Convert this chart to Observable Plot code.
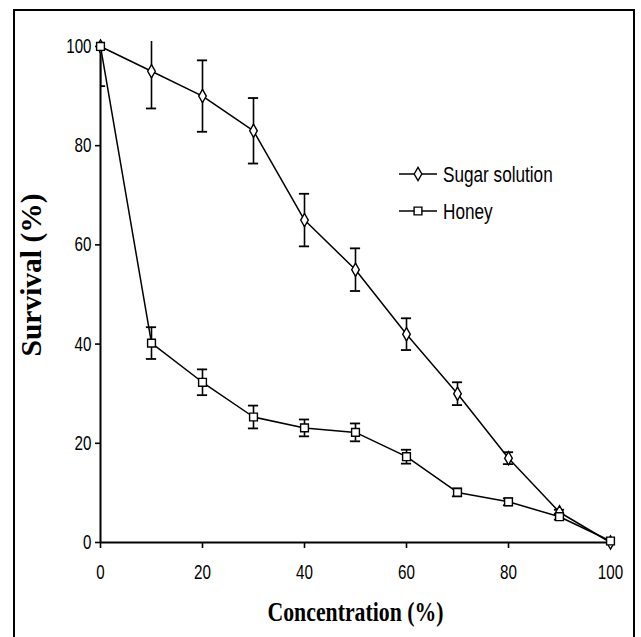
<!DOCTYPE html>
<html>
<head>
<meta charset="utf-8">
<script src="https://cdn.jsdelivr.net/npm/d3@7"></script>
<script src="https://cdn.jsdelivr.net/npm/@observablehq/plot@0.6"></script>
<style>
  html, body { margin: 0; padding: 0; background: #fff; }
  #wrap { position: relative; width: 641px; height: 637px; overflow: hidden; background: #fff; }
  #wrap svg { position: absolute; left: 0; top: 0; }
  #border { position: absolute; left: 13px; top: 9px; width: 622px; height: 640px; border: 2px solid #000; box-sizing: border-box; }
</style>
</head>
<body>
<div id="wrap"><div id="border"></div></div>
<script>
// ---- data ----
const concentration = [0, 10, 20, 30, 40, 50, 60, 70, 80, 90, 100];
const sugarSurvival = [100, 95, 90, 83, 65, 55, 42, 30, 17, 6.1, 0];
const sugarError    = [0, 7.5, 7.2, 6.6, 5.3, 4.3, 3.2, 2.3, 1.2, 0.5, 0];
const honeySurvival = [100, 40.2, 32.3, 25.3, 23.1, 22.2, 17.3, 10.1, 8.2, 5.2, 0.3];
const honeyError    = [8, 3.2, 2.6, 2.3, 1.7, 1.8, 1.4, 0.8, 0.7, 0.6, 0];
const seriesNames = ["Sugar solution", "Honey"];
const xTicks = [0, 20, 40, 60, 80, 100];
const yTicks = [0, 20, 40, 60, 80, 100];
const xLabel = "Concentration (%)";
const yLabel = "Survival (%)";

const sugar = concentration.map((c, i) => ({x: c, y: sugarSurvival[i], e: sugarError[i]}));
const honey = concentration.map((c, i) => ({x: c, y: honeySurvival[i], e: honeyError[i]}));
const errRows = [...sugar, ...honey].filter(d => d.e > 0);

const tickFont = "'Liberation Sans', Arial, sans-serif";
const serifFont = "'Liberation Serif', 'Times New Roman', serif";
const capHalf = 1;

const chart = Plot.plot({
  width: 641,
  height: 637,
  marginLeft: 100,
  marginRight: 31,
  marginTop: 41,
  marginBottom: 95,
  style: {background: "transparent", fontFamily: tickFont, color: "#000"},
  x: {domain: [0, 100]},
  y: {domain: [0, 101]},
  marks: [
    Plot.axisX({ticks: xTicks, tickSize: 6, tickPadding: 16, fontSize: 20.5, label: null, stroke: "#000", strokeWidth: 1.6}),
    Plot.axisY({ticks: yTicks, tickSize: 5, tickPadding: 4, fontSize: 20.5, label: null, stroke: "#000", strokeWidth: 1.6}),
    Plot.ruleY([0], {stroke: "#000", strokeWidth: 2}),
    Plot.ruleX([0], {y1: 0, y2: 100, stroke: "#000", strokeWidth: 2}),
    Plot.line(sugar, {x: "x", y: "y", stroke: "#000", strokeWidth: 1.5}),
    Plot.line(honey, {x: "x", y: "y", stroke: "#000", strokeWidth: 1.5}),
    Plot.ruleX(errRows, {x: "x", y1: d => d.y - d.e, y2: d => d.y + d.e, stroke: "#000", strokeWidth: 1.6, clip: true}),
    Plot.ruleY(errRows, {y: d => d.y + d.e, x1: d => d.x - capHalf, x2: d => d.x + capHalf, stroke: "#000", strokeWidth: 1.8, clip: true}),
    Plot.ruleY(errRows, {y: d => d.y - d.e, x1: d => d.x - capHalf, x2: d => d.x + capHalf, stroke: "#000", strokeWidth: 1.8, clip: true}),
    Plot.dot(sugar, {x: "x", y: "y", symbol: "diamond", r: 4, fill: "white", stroke: "#000", strokeWidth: 1.4}),
    Plot.dot(honey, {x: "x", y: "y", symbol: "square", r: 4.4, fill: "white", stroke: "#000", strokeWidth: 1.4}),
    Plot.text([xLabel], {frameAnchor: "bottom", dy: 78, fontFamily: serifFont, fontWeight: "bold", fontSize: 28, fill: "#000"}),
    Plot.text([yLabel], {frameAnchor: "left", textAnchor: "middle", rotate: -90, dx: -69, dy: -17, fontFamily: serifFont, fontWeight: "bold", fontSize: 29.5, fill: "#000"})
  ]
});

const wrap = document.getElementById("wrap");
wrap.insertBefore(chart, document.getElementById("border"));

// condense texts horizontally like the reference
const tickStrings = new Set([...xTicks, ...yTicks].map(String));
d3.select(chart).selectAll("text").each(function() {
  const t = this.textContent;
  if (t === xLabel) {
    this.setAttribute("textLength", 176); this.setAttribute("lengthAdjust", "spacingAndGlyphs");
  } else if (tickStrings.has(t)) {
    this.style.fontSize = "20.5px";
    const w = this.getComputedTextLength();
    this.setAttribute("textLength", (w * 0.74).toFixed(1));
    this.setAttribute("lengthAdjust", "spacingAndGlyphs");
  }
});

// legend
const legend = d3.create("svg").attr("width", 641).attr("height", 637);
wrap.appendChild(legend.node());
const symbols = [d3.symbolDiamond, d3.symbolSquare];
const radii = [4, 4.4];
seriesNames.forEach((name, i) => {
  const cy = 174 + i * 37;
  const g = legend.append("g");
  g.append("line").attr("x1", 399).attr("x2", 437).attr("y1", cy).attr("y2", cy).attr("stroke", "#000").attr("stroke-width", 1.5);
  g.append("path").attr("transform", `translate(418,${cy})`)
    .attr("d", d3.symbol(symbols[i], Math.PI * radii[i] * radii[i])())
    .attr("fill", "white").attr("stroke", "#000").attr("stroke-width", 1.4);
  const txt = g.append("text").attr("x", 443).attr("y", cy + 8).attr("font-family", tickFont).attr("font-size", 22).attr("fill", "#000").text(name);
  const w = txt.node().getComputedTextLength();
  txt.attr("textLength", (w * 0.78).toFixed(1)).attr("lengthAdjust", "spacingAndGlyphs");
});
</script>
</body>
</html>
